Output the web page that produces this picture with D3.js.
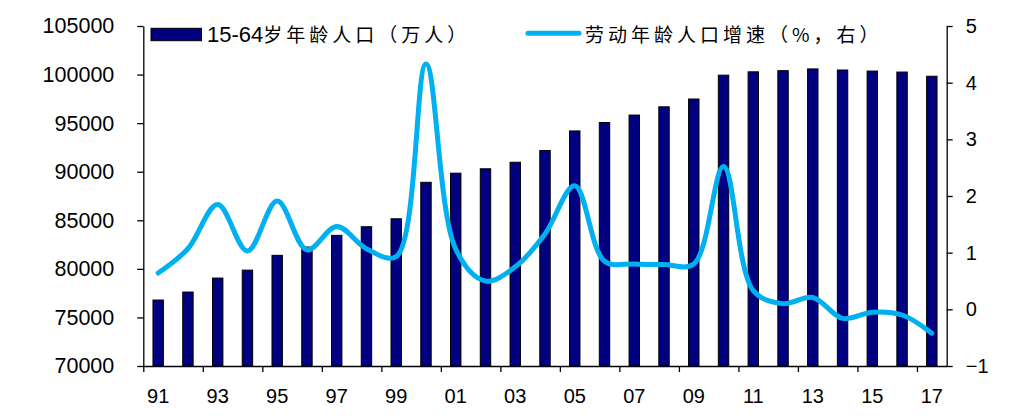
<!DOCTYPE html>
<html>
<head>
<meta charset="utf-8">
<script src="https://cdn.jsdelivr.net/npm/d3@7"></script>
<style>
  body { margin: 0; background: #fff; }
  text { font-family: Arial, "Liberation Sans", sans-serif; fill: #000; }
  .cn { font-family: "Noto Sans CJK SC", sans-serif; }
</style>
</head>
<body>
<svg id="chart" width="1019" height="419"></svg>
<script>
// years 1991 - 2017
const years = d3.range(1991, 2018);
const yearLabels = years.map(y => String(y).slice(2));

// 15-64岁年龄人口（万人）
const population = [76791, 77614, 79051, 79868, 81393, 82245, 83448, 84338, 85157, 88910,
                    89849, 90302, 90976, 92184, 94197, 95068, 95833, 96680, 97484, 99938,
                    100283, 100403, 100582, 100469, 100361, 100260, 99829];

// 劳动年龄人口增速（%，右）
const growth = [0.64, 1.07, 1.85, 1.03, 1.91, 1.05, 1.46, 1.07, 0.93, 4.33,
                1.06, 0.50, 0.75, 1.33, 2.18, 0.85, 0.80, 0.79, 0.80, 2.52,
                0.33, 0.10, 0.21, -0.16, -0.05, -0.10, -0.42];

const leftTicks = [70000, 75000, 80000, 85000, 90000, 95000, 100000, 105000];
const rightTicks = [-1, 0, 1, 2, 3, 4, 5];

const svg = d3.select("#chart");
const plotL = 143.3, plotR = 946.7, plotT = 26, plotB = 366;

const x = d3.scaleBand().domain(years).range([plotL, plotR]).padding(0);
const xIdx = d3.scaleLinear().domain([0, years.length]).range([plotL, plotR]);
const yL = d3.scaleLinear().domain([70000, 105000]).range([plotB, plotT]);
const yR = d3.scaleLinear().domain([-1, 5]).range([plotB, plotT]);

const barW = x.bandwidth() * 0.35;

// bars
svg.append("g")
    .selectAll("rect")
    .data(years)
    .enter()
    .append("rect")
    .attr("x", (d) => x(d) + x.bandwidth() / 2 - barW / 2)
    .attr("y", (d, i) => yL(population[i]))
    .attr("width", barW)
    .attr("height", (d, i) => plotB - yL(population[i]))
    .attr("fill", "#000080")
    .attr("stroke", "#000")
    .attr("stroke-width", 1);

// smoothed line
const line = d3.line()
    .x((d, i) => x(years[i]) + x.bandwidth() / 2)
    .y((d) => yR(d))
    .curve(d3.curveCatmullRom.alpha(0.5));

svg.append("path")
    .datum(growth)
    .attr("d", line)
    .attr("fill", "none")
    .attr("stroke", "#00B0F0")
    .attr("stroke-width", 5)
    .attr("stroke-linecap", "round")
    .attr("stroke-linejoin", "round");

// left axis
const axL = svg.append("g")
    .attr("transform", `translate(${plotL},0)`)
    .call(d3.axisLeft(yL).tickValues(leftTicks).tickSize(6).tickSizeOuter(0).tickPadding(23).tickFormat(d3.format("d")));
axL.selectAll("text").style("font-size", "21.5px");

// right axis
const axR = svg.append("g")
    .attr("transform", `translate(${plotR},0)`)
    .call(d3.axisRight(yR).tickValues(rightTicks).tickSize(6).tickSizeOuter(0).tickPadding(13).tickFormat(d3.format("d")));
axR.selectAll("text").style("font-size", "20px");

// bottom axis: ticks at every second category boundary
svg.append("g")
    .attr("transform", `translate(0,${plotB})`)
    .call(d3.axisBottom(xIdx).tickValues(d3.range(0, years.length, 2)).tickSize(6).tickSizeOuter(0).tickFormat(""));

const axB = svg.append("g")
    .attr("transform", `translate(0,${plotB})`)
    .call(d3.axisBottom(x).tickValues(years.filter((d, i) => i % 2 === 0)).tickSize(0).tickPadding(23)
        .tickFormat((d) => yearLabels[years.indexOf(d)]));
axB.select(".domain").remove();
axB.selectAll("text").style("font-size", "20px");

svg.selectAll(".domain, .tick line").attr("stroke", "#000").attr("stroke-width", 1.3);

// legend
svg.append("rect")
    .attr("x", 151).attr("y", 28.3)
    .attr("width", 50.5).attr("height", 12.4)
    .attr("fill", "#000080").attr("stroke", "#000").attr("stroke-width", 1);

const t1 = svg.append("text").attr("x", 207).attr("y", 41.5);
t1.append("tspan").style("font-size", "22px").text("15-64");
t1.append("tspan").attr("class", "cn").style("font-size", "19px").style("letter-spacing", "4px").text("岁年龄人口（万人）");

svg.append("line")
    .attr("x1", 528).attr("x2", 579).attr("y1", 33.3).attr("y2", 33.3)
    .attr("stroke", "#00B0F0").attr("stroke-width", 5).attr("stroke-linecap", "round");

svg.append("text")
    .attr("class", "cn")
    .attr("x", 585).attr("y", 41.5)
    .style("font-size", "19px")
    .style("letter-spacing", "4px")
    .text("劳动年龄人口增速（%，右）");
</script>
</body>
</html>
